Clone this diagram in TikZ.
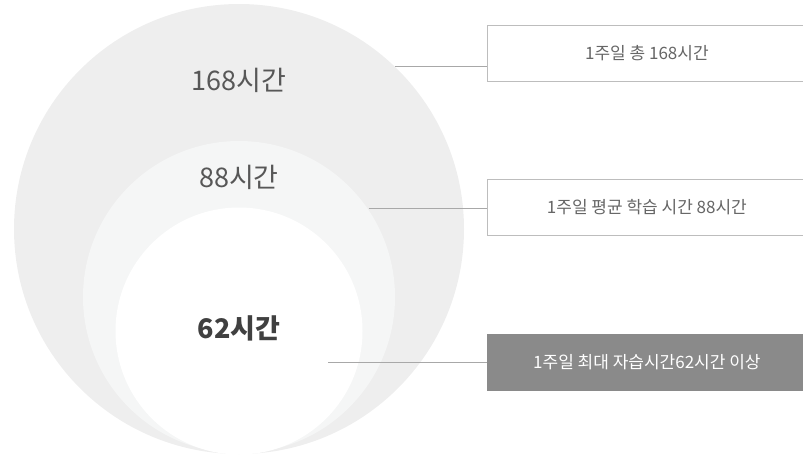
\documentclass[tikz,border=0pt]{standalone}
\usepackage{fontspec}
\usepackage{xcolor}
\usepackage{tikz}
\newfontfamily\krfont{Noto Sans CJK KR}
\definecolor{ringout}{HTML}{EEEEEE}
\definecolor{ringmid}{HTML}{F5F6F6}
\definecolor{linegray}{HTML}{A8A8A8}
\definecolor{boxgray}{HTML}{BDBDBD}
\definecolor{darkbox}{HTML}{8A8A8A}
\definecolor{txtgray}{HTML}{666666}

\begin{document}
\begin{tikzpicture}[x=1pt,y=-1pt,
  ring/.style={circle, inner sep=0pt, minimum size=#1},
  ringlabel/.style={font=\krfont\fontsize{27}{27}\selectfont, text=txtgray!85!black},
  notebox/.style={rectangle, anchor=west, draw=boxgray, line width=0.8pt,
    minimum width=319pt, minimum height=56pt, text=txtgray,
    font=\krfont\fontsize{17}{17}\selectfont},
  link/.style={draw=linegray, line width=0.8pt}]
  \useasboundingbox (0,0) rectangle (803,456);
  \node[ring=450pt, fill=ringout] (week) at (239,229) {};
  \node[ring=312pt, fill=ringmid] (study) at (239,297) {};
  \node[ring=247pt, fill=white] (self) at (239,331) {};
  \node[ringlabel] (weeklbl) at (239,80) {168시간};
  \node[ringlabel] (studylbl) at (239,177) {88시간};
  \node[ringlabel, font=\krfont\bfseries\fontsize{27}{27}\selectfont, text=black!75]
    (selflbl) at (239,328) {62시간};
  \node[notebox, fill=white] (weekbox) at (487,53) {1주일 총 168시간};
  \node[notebox, fill=white] (studybox) at (487,207.5) {1주일 평균 학습 시간 88시간};
  \node[notebox, fill=darkbox, draw=darkbox, text=white] (selfbox) at (487,362)
    {1주일 최대 자습시간62시간 이상};
  \coordinate (weekend) at (395,66);
  \coordinate (studyend) at (368.7,208);
  \coordinate (selfend) at (328,362);
  \draw[link] (weekend) -- (weekend -| weekbox.west);
  \draw[link] (studyend) -- (studyend -| studybox.west);
  \draw[link] (selfend) -- (selfbox.west);
\end{tikzpicture}
\end{document}
